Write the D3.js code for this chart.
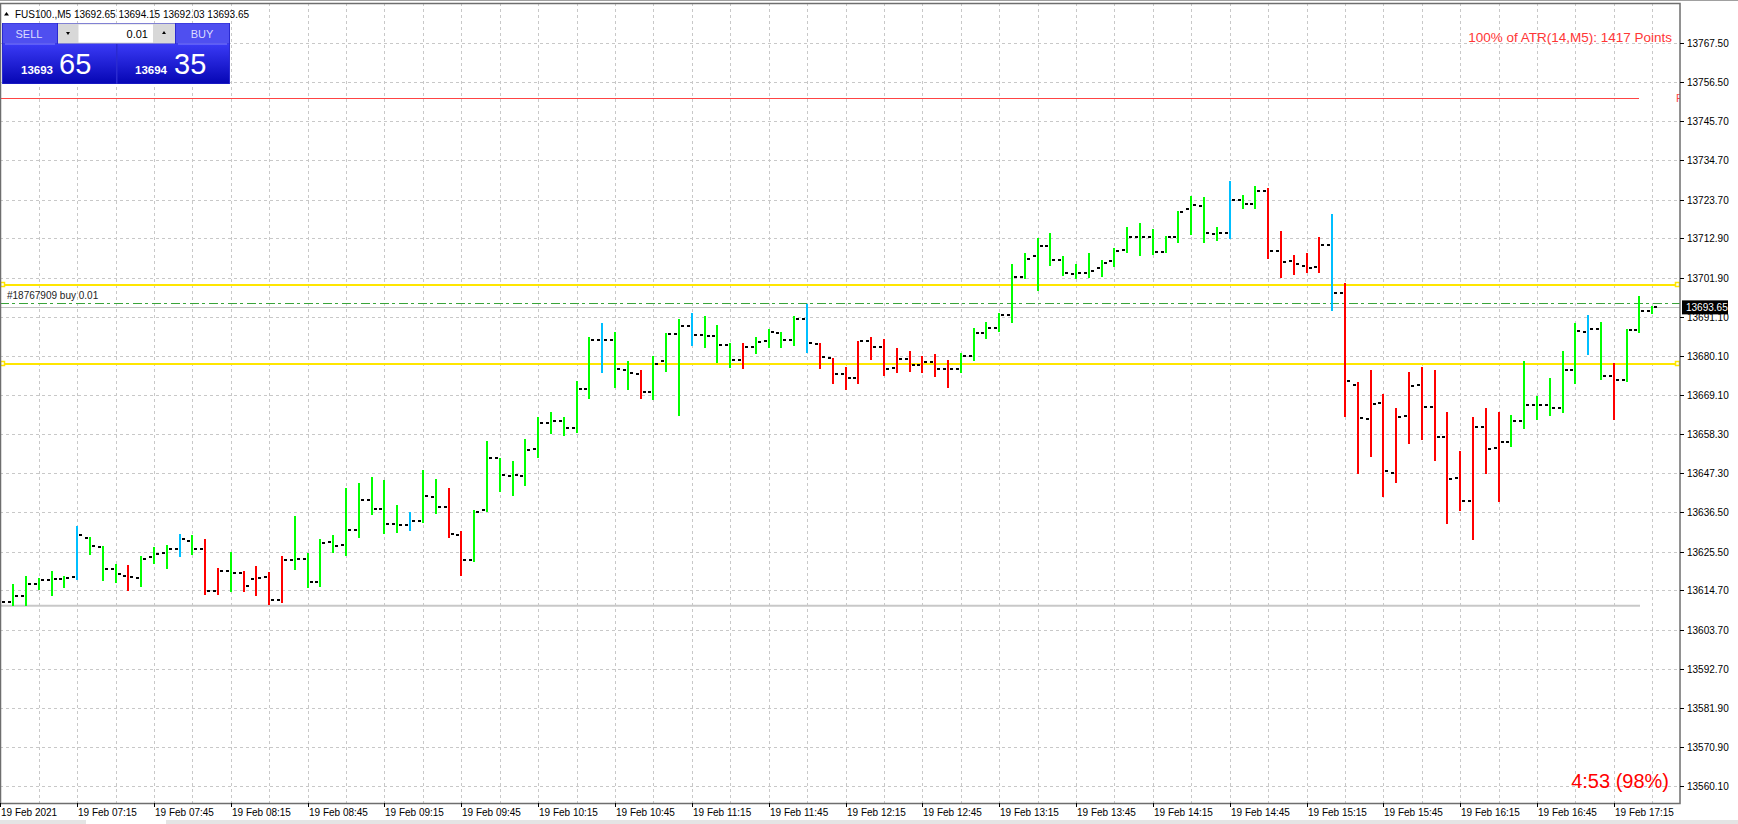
<!DOCTYPE html>
<html>
<head>
<meta charset="utf-8">
<script src="https://cdn.jsdelivr.net/npm/d3@7"></script>
<style>
  html, body { margin: 0; padding: 0; background: #fff; overflow: hidden; }
  svg { display: block; font-family: "Liberation Sans", Arial, sans-serif; }
</style>
</head>
<body>
<svg id="chart" width="1738" height="824"></svg>
<script>
// ---- data (FUS100., M5, 19 Feb 2021 06:45 .. 17:30) ----
var opens = [13606.5,13611.5,13613.0,13616.5,13617.5,13617.8,13618.3,13629.4,13626.9,13620.6,
  13618.8,13618.1,13623.9,13625.1,13626.3,13628.6,13626.2,13614.5,13620.1,13619.6,
  13617.8,13618.4,13612.0,13623.2,13623.5,13617.0,13628.1,13627.3,13631.5,13640.0,
  13637.5,13633.3,13632.8,13634.0,13640.7,13637.9,13630.1,13623.1,13637.0,13651.6,
  13646.6,13646.5,13654.0,13661.5,13662.0,13660.0,13671.0,13684.6,13684.5,13676.2,
  13675.1,13670.0,13678.6,13686.2,13688.5,13685.9,13685.7,13683.1,13678.9,13682.5,
  13684.3,13686.6,13684.5,13690.5,13683.5,13679.4,13675.0,13673.9,13684.3,13682.5,
  13676.6,13679.2,13677.5,13678.5,13676.5,13676.5,13680.0,13686.5,13688.0,13691.5,
  13702.1,13708.0,13710.9,13706.8,13703.1,13703.2,13704.5,13706.5,13709.7,13713.3,
  13713.3,13709.2,13713.4,13721.1,13721.8,13714.0,13714.5,13723.5,13722.5,13726.0,
  13709.5,13706.6,13705.3,13704.8,13711.0,13697.6,13672.0,13662.5,13667.0,13647.5,
  13663.3,13671.9,13665.9,13657.4,13646.0,13639.5,13660.4,13654.3,13656.0,13662.0,
  13666.5,13666.5,13665.5,13676.3,13686.9,13687.6,13674.6,13673.5,13687.4,13692.65];
var highs = [13612.3,13616.5,13618.8,13618.0,13620.1,13618.8,13632.6,13629.5,13627.2,13622.1,
  13621.9,13624.4,13626.7,13627.3,13630.3,13630.0,13628.9,13621.0,13625.4,13620.1,
  13621.5,13619.8,13624.2,13635.3,13625.2,13628.9,13630.2,13643.3,13644.6,13646.4,
  13645.4,13638.4,13636.5,13648.3,13645.9,13643.3,13631.2,13637.0,13656.5,13651.7,
  13650.7,13656.9,13663.0,13664.5,13663.0,13673.0,13685.3,13689.4,13686.8,13678.6,
  13676.2,13680.1,13686.4,13690.4,13692.1,13691.2,13688.6,13683.7,13683.7,13685.3,
  13687.7,13686.9,13691.2,13694.5,13683.6,13679.4,13677.1,13684.3,13685.5,13684.8,
  13682.4,13681.5,13680.0,13680.5,13679.0,13681.0,13688.0,13689.5,13692.0,13705.7,
  13708.7,13712.9,13714.3,13708.0,13705.7,13708.9,13706.8,13710.1,13716.1,13717.2,
  13715.6,13713.6,13720.5,13724.7,13724.5,13716.0,13728.9,13725.0,13727.5,13727.0,
  13715.0,13708.3,13708.9,13713.4,13719.6,13700.4,13672.9,13676.2,13669.4,13665.7,
  13675.5,13677.1,13676.2,13664.5,13653.6,13663.2,13665.7,13664.5,13663.5,13678.7,
  13669.0,13674.0,13681.5,13689.4,13691.5,13689.7,13678.0,13687.6,13696.9,13694.15];
var lows = [13603.6,13610.5,13610.5,13615.0,13613.5,13615.5,13617.8,13624.9,13617.5,13617.0,
  13614.8,13616.0,13622.3,13620.9,13624.3,13624.9,13613.8,13613.8,13614.5,13614.5,
  13613.5,13611.0,13611.5,13620.6,13615.5,13616.0,13625.5,13624.5,13629.6,13636.0,
  13630.8,13630.9,13631.6,13633.7,13636.3,13629.7,13619.0,13622.8,13636.7,13642.3,
  13641.2,13644.1,13652.0,13658.5,13658.0,13659.0,13668.5,13675.6,13671.5,13671.0,
  13668.5,13668.0,13676.0,13663.5,13683.1,13682.5,13678.3,13676.9,13676.6,13680.8,
  13682.5,13682.5,13683.2,13681.3,13676.6,13672.5,13671.0,13672.5,13679.2,13674.8,
  13675.5,13676.0,13675.5,13674.5,13671.5,13675.5,13679.0,13685.0,13687.0,13689.5,
  13701.8,13698.5,13705.5,13702.7,13701.8,13702.0,13702.3,13705.2,13709.2,13708.3,
  13708.5,13709.2,13711.8,13714.1,13711.8,13712.5,13713.0,13721.5,13721.5,13707.3,
  13702.0,13702.9,13703.5,13703.5,13692.9,13663.4,13647.5,13652.3,13641.0,13645.0,
  13655.7,13656.8,13651.2,13633.5,13637.0,13629.0,13647.5,13639.5,13655.0,13660.0,
  13662.5,13663.5,13664.5,13672.6,13680.5,13673.7,13662.5,13673.2,13686.9,13692.03];
var closes = [13611.5,13613.0,13616.5,13617.5,13617.8,13618.2,13630.0,13627.2,13620.6,13619.2,
  13618.3,13623.4,13624.7,13626.3,13628.9,13626.3,13614.5,13620.0,13619.6,13615.8,
  13618.1,13612.0,13623.1,13623.5,13617.0,13627.8,13627.0,13631.5,13640.0,13637.5,
  13633.3,13632.8,13634.1,13640.9,13638.0,13630.4,13623.1,13636.5,13651.7,13646.8,
  13646.9,13653.9,13661.5,13662.0,13660.0,13671.0,13684.5,13684.6,13676.5,13675.2,
  13670.0,13677.9,13686.2,13688.5,13685.9,13685.7,13683.2,13678.9,13682.5,13684.1,
  13686.7,13684.5,13690.5,13683.6,13679.7,13675.0,13673.9,13684.2,13682.5,13676.5,
  13679.2,13677.5,13678.5,13676.5,13676.5,13680.0,13686.5,13688.0,13691.5,13702.1,
  13707.2,13710.7,13706.8,13703.2,13703.2,13703.7,13706.0,13709.4,13713.3,13713.3,
  13709.2,13713.4,13720.4,13722.2,13714.4,13714.5,13723.5,13722.5,13726.0,13709.5,
  13706.4,13705.8,13704.5,13711.0,13697.6,13673.1,13662.7,13666.6,13647.9,13663.1,
  13671.8,13665.9,13657.6,13645.7,13639.5,13660.4,13654.2,13656.0,13662.0,13666.5,
  13666.5,13665.5,13676.3,13687.1,13687.6,13674.6,13673.5,13687.4,13692.6,13693.65];
// bar colour class: g = up trend, r = down trend, b = signal bar
var barClass = "ggggggbgggrgggbgrrgrrrrgggggggggbggrrggggggggggbggrgggbgggrggggbrrrrrrrrrrrgggggggggggggggggggggbggrrrrrbrrrrrrrrrrrrrggggggbgrggg".split("");

var priceTicks = [13767.50,13756.50,13745.70,13734.70,13723.70,13712.90,13701.90,13691.10,13680.10,13669.10,
  13658.30,13647.30,13636.50,13625.50,13614.70,13603.70,13592.70,13581.90,13570.90,13560.10];
var timeLabels = ["19 Feb 2021","19 Feb 07:15","19 Feb 07:45","19 Feb 08:15","19 Feb 08:45","19 Feb 09:15",
  "19 Feb 09:45","19 Feb 10:15","19 Feb 10:45","19 Feb 11:15","19 Feb 11:45","19 Feb 12:15","19 Feb 12:45",
  "19 Feb 13:15","19 Feb 13:45","19 Feb 14:15","19 Feb 14:45","19 Feb 15:15","19 Feb 15:45","19 Feb 16:15",
  "19 Feb 16:45","19 Feb 17:15"];
var timeLabelBars = [0,6,12,18,24,30,36,42,48,54,60,66,72,78,84,90,96,102,108,114,120,126];

var redLevel = 13752.15;
var yellowLevels = [13699.9, 13677.8];
var orderLevel = 13694.96;
var bidPrice = 13693.65;
var greyLevel = 13610.4;

var COLORS = { g: "#00ff00", r: "#ff0000", b: "#00bfff" };

// ---- layout ----
var L = 0, T = 3, R = 1680, B = 803;
var svg = d3.select("#chart");
var x = d3.scaleLinear().domain([0, 129]).range([0.3, 1652.3]);
var y = d3.scaleLinear().domain([13560.1, 13767.5]).range([786, 42.7]);

svg.append("defs").append("clipPath").attr("id", "plotclip")
  .append("rect").attr("x", L).attr("y", T).attr("width", R - L).attr("height", B - T);
var grad = svg.select("defs").append("linearGradient").attr("id", "pricegrad")
  .attr("x1", 0).attr("y1", 0).attr("x2", 0).attr("y2", 1);
grad.append("stop").attr("offset", "0%").attr("stop-color", "#3a3af5");
grad.append("stop").attr("offset", "100%").attr("stop-color", "#0606b4");

var plot = svg.append("g").attr("clip-path", "url(#plotclip)");

// grid
plot.selectAll(".hg").data(priceTicks).enter().append("line")
  .attr("x1", L).attr("x2", R)
  .attr("y1", function (d) { return Math.round(y(d)) + 0.5 })
  .attr("y2", function (d) { return Math.round(y(d)) + 0.5 })
  .attr("stroke", "#c8c8c8").attr("stroke-dasharray", "3,3");
plot.selectAll(".vg").data(d3.range(3, 130, 3)).enter().append("line")
  .attr("x1", function (d) { return Math.round(x(d)) + 0.5 })
  .attr("x2", function (d) { return Math.round(x(d)) + 0.5 })
  .attr("y1", T).attr("y2", B)
  .attr("stroke", "#c8c8c8").attr("stroke-dasharray", "3,3");

// horizontal levels
plot.append("line").attr("x1", L).attr("x2", 1639)
  .attr("y1", Math.round(y(redLevel)) + 0.5).attr("y2", Math.round(y(redLevel)) + 0.5)
  .attr("stroke", "#ff4444").attr("stroke-width", 1.2);
plot.append("text").attr("x", 1676).attr("y", y(redLevel) + 4)
  .attr("font-size", 11).attr("fill", "#ff4444").text("R");
plot.append("line").attr("x1", L).attr("x2", 1640)
  .attr("y1", y(greyLevel)).attr("y2", y(greyLevel))
  .attr("stroke", "#c8c8c8").attr("stroke-width", 2);
plot.append("line").attr("x1", L).attr("x2", R)
  .attr("y1", Math.round(y(orderLevel)) + 0.5).attr("y2", Math.round(y(orderLevel)) + 0.5)
  .attr("stroke", "#3aa43a").attr("stroke-dasharray", "9,3,3,4");
plot.append("line").attr("x1", L).attr("x2", R)
  .attr("y1", Math.round(y(bidPrice)) + 0.5).attr("y2", Math.round(y(bidPrice)) + 0.5)
  .attr("stroke", "#c0c0c0");
plot.selectAll(".yl").data(yellowLevels).enter().append("line")
  .attr("x1", L).attr("x2", R)
  .attr("y1", function (d) { return Math.round(y(d)) })
  .attr("y2", function (d) { return Math.round(y(d)) })
  .attr("stroke", "#ffe600").attr("stroke-width", 2);
yellowLevels.forEach(function (d) {
  [1, 1676].forEach(function (px) {
    plot.append("rect").attr("x", px - 0.5).attr("y", Math.round(y(d)) - 2.5)
      .attr("width", 4).attr("height", 4)
      .attr("fill", "#fff").attr("stroke", "#ffe600").attr("stroke-width", 1.5);
  });
});
plot.append("text").attr("x", 7).attr("y", y(orderLevel) - 4)
  .attr("font-size", 10).attr("fill", "#222").text("#18767909 buy 0.01");

// OHLC bars
var bars = plot.selectAll(".bar").data(d3.range(opens.length)).enter().append("g");
bars.append("line")
  .attr("x1", function (i) { return Math.round(x(i)) })
  .attr("x2", function (i) { return Math.round(x(i)) })
  .attr("y1", function (i) { return Math.round(y(highs[i])) })
  .attr("y2", function (i) { return Math.round(y(lows[i])) + 1 })
  .attr("stroke", function (i) { return COLORS[barClass[i]] })
  .attr("stroke-width", 2);
bars.append("line")
  .attr("x1", function (i) { return Math.round(x(i)) - 5 })
  .attr("x2", function (i) { return Math.round(x(i)) - 2 })
  .attr("y1", function (i) { return Math.round(y(opens[i])) })
  .attr("y2", function (i) { return Math.round(y(opens[i])) })
  .attr("stroke", "#000").attr("stroke-width", 2);
bars.append("line")
  .attr("x1", function (i) { return Math.round(x(i)) + 2 })
  .attr("x2", function (i) { return Math.round(x(i)) + 5 })
  .attr("y1", function (i) { return Math.round(y(closes[i])) })
  .attr("y2", function (i) { return Math.round(y(closes[i])) })
  .attr("stroke", "#000").attr("stroke-width", 2);

// texts on chart
svg.append("text").attr("x", 1672).attr("y", 42).attr("text-anchor", "end")
  .attr("font-size", 13.5).attr("fill", "#ff3636").text("100% of ATR(14,M5): 1417  Points");
svg.append("text").attr("x", 1669).attr("y", 788).attr("text-anchor", "end")
  .attr("font-size", 20).attr("fill", "#ff0000").text("4:53 (98%)");

// header
svg.append("path").attr("d", "M4,15.5 L6.5,12 L9,15.5 Z").attr("fill", "#000");
svg.append("text").attr("x", 15).attr("y", 18).attr("font-size", 10).attr("fill", "#000")
  .text("FUS100.,M5  13692.65 13694.15 13692.03 13693.65");

// one click trading panel
var p = svg.append("g");
p.append("rect").attr("x", 2).attr("y", 23).attr("width", 228).attr("height", 61).attr("fill", "#2a2ad0");
p.append("rect").attr("x", 3).attr("y", 23.5).attr("width", 54).attr("height", 20).attr("fill", "#4f4ff0");
p.append("rect").attr("x", 176).attr("y", 23.5).attr("width", 53).attr("height", 20).attr("fill", "#4f4ff0");
p.append("rect").attr("x", 58).attr("y", 23.5).attr("width", 117).attr("height", 20).attr("fill", "#d8d8d8");
p.append("rect").attr("x", 78.5).attr("y", 24.5).attr("width", 74.5).attr("height", 18).attr("fill", "#fff");
p.append("path").attr("d", "M66,32 L70,32 L68,35 Z").attr("fill", "#000");
p.append("path").attr("d", "M162,34 L166,34 L164,31 Z").attr("fill", "#000");
p.append("text").attr("x", 148).attr("y", 38).attr("text-anchor", "end").attr("font-size", 11).attr("fill", "#000").text("0.01");
p.append("text").attr("x", 29).attr("y", 38).attr("text-anchor", "middle").attr("font-size", 11).attr("fill", "#dcdcff").text("SELL");
p.append("text").attr("x", 202).attr("y", 38).attr("text-anchor", "middle").attr("font-size", 11).attr("fill", "#dcdcff").text("BUY");
p.append("rect").attr("x", 3).attr("y", 44).attr("width", 113).attr("height", 39.5).attr("fill", "url(#pricegrad)");
p.append("rect").attr("x", 117.5).attr("y", 44).attr("width", 111.5).attr("height", 39.5).attr("fill", "url(#pricegrad)");
p.append("line").attr("x1", 5).attr("x2", 55).attr("y1", 44).attr("y2", 44).attr("stroke", "#8080ff");
p.append("line").attr("x1", 178).attr("x2", 227).attr("y1", 44).attr("y2", 44).attr("stroke", "#8080ff");
p.append("text").attr("x", 21).attr("y", 74).attr("font-size", 11.5).attr("font-weight", "bold").attr("fill", "#fff").text("13693");
p.append("text").attr("x", 59).attr("y", 74).attr("font-size", 29).attr("fill", "#fff").text("65");
p.append("text").attr("x", 135).attr("y", 74).attr("font-size", 11.5).attr("font-weight", "bold").attr("fill", "#fff").text("13694");
p.append("text").attr("x", 174).attr("y", 74).attr("font-size", 29).attr("fill", "#fff").text("35");

// frame
svg.append("line").attr("x1", 0).attr("x2", 1738).attr("y1", 0.5).attr("y2", 0.5).attr("stroke", "#a0a0a0");
svg.append("rect").attr("x", 0.5).attr("y", T + 0.5).attr("width", R - 0.5).attr("height", B - T)
  .attr("fill", "none").attr("stroke", "#6e6e6e").attr("stroke-width", 1.5);

// price axis
var pa = svg.append("g");
pa.selectAll(".pt").data(priceTicks).enter().append("line")
  .attr("x1", R).attr("x2", R + 4)
  .attr("y1", function (d) { return Math.round(y(d)) + 0.5 })
  .attr("y2", function (d) { return Math.round(y(d)) + 0.5 })
  .attr("stroke", "#000");
pa.selectAll(".pl").data(priceTicks).enter().append("text")
  .attr("x", R + 7).attr("y", function (d) { return y(d) + 4 })
  .attr("font-size", 10).attr("fill", "#000")
  .text(function (d) { return d.toFixed(2) });
pa.append("rect").attr("x", R + 2).attr("y", y(bidPrice) - 7).attr("width", 46).attr("height", 14).attr("fill", "#000");
pa.append("text").attr("x", R + 6).attr("y", y(bidPrice) + 4).attr("font-size", 10).attr("fill", "#fff").text(bidPrice.toFixed(2));

// time axis
var ta = svg.append("g");
ta.selectAll(".tt").data(timeLabelBars).enter().append("line")
  .attr("x1", function (d) { return Math.round(x(d)) + 0.5 })
  .attr("x2", function (d) { return Math.round(x(d)) + 0.5 })
  .attr("y1", B).attr("y2", B + 4).attr("stroke", "#000");
ta.selectAll(".tl").data(timeLabels).enter().append("text")
  .attr("x", function (d, k) { return Math.round(x(timeLabelBars[k])) + 1 })
  .attr("y", B + 13).attr("font-size", 10).attr("fill", "#000")
  .text(function (d) { return d });

// tab strip at the bottom
svg.append("rect").attr("x", 0).attr("y", 820).attr("width", 1738).attr("height", 4).attr("fill", "#e4e4e4");
svg.append("rect").attr("x", 86).attr("y", 820).attr("width", 80).attr("height", 4).attr("fill", "#fff");
</script>
</body>
</html>
